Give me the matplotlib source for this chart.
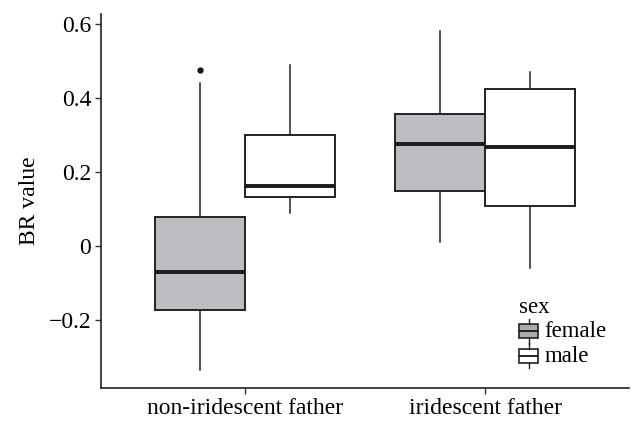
import numpy as np
import matplotlib
matplotlib.use("Agg")
from matplotlib import pyplot as plt
from matplotlib.patches import Rectangle
from matplotlib.lines import Line2D
from matplotlib.legend_handler import HandlerBase

plt.rcParams['font.family'] = ['Liberation Serif', 'DejaVu Serif']

# data
groups = ['non-iridescent father', 'iridescent father']
sexes = ['female', 'male']
colors = ['#bcbdc0', '#ffffff']
# stats per sex, one entry per group: whislo, q1, med, q3, whishi
whislo = {'female': [-0.335, 0.010], 'male': [0.088, -0.059]}
q1 = {'female': [-0.174, 0.149], 'male': [0.133, 0.108]}
med = {'female': [-0.070, 0.276], 'male': [0.163, 0.266]}
q3 = {'female': [0.079, 0.357], 'male': [0.301, 0.423]}
whishi = {'female': [0.440, 0.582], 'male': [0.488, 0.471]}
fliers = {'female': [[0.475], []], 'male': [[], []]}

fig, ax = plt.subplots(figsize=(6.34, 4.23), dpi=100)
fig.subplots_adjust(left=0.16, right=0.992, top=0.967, bottom=0.083)

w = 0.375
for k, s in enumerate(sexes):
    stats = []
    for i in range(len(groups)):
        stats.append(dict(whislo=whislo[s][i], q1=q1[s][i], med=med[s][i],
                          q3=q3[s][i], whishi=whishi[s][i], fliers=fliers[s][i]))
    pos = [i + 1 + (k - 0.5) * w for i in range(len(groups))]
    ax.bxp(stats, positions=pos, widths=w, patch_artist=True, showcaps=False,
           boxprops=dict(facecolor=colors[k], edgecolor='#222222', linewidth=1.4),
           medianprops=dict(color='#1a1a1a', linewidth=2.8),
           whiskerprops=dict(color='#222222', linewidth=1.1),
           flierprops=dict(marker='o', markersize=3.5, markerfacecolor='#111111',
                           markeredgecolor='#111111'))

ax.set_xlim(0.4, 2.6)
ax.set_ylim(-0.384, 0.627)
ax.set_xticks([1, 2])
ax.set_xticklabels(groups)
ax.set_yticks([-0.2, 0, 0.2, 0.4, 0.6])
ax.set_yticklabels(['\u22120.2', '0', '0.2', '0.4', '0.6'])
ax.set_ylabel('BR value', fontsize=17, labelpad=6)
ax.tick_params(labelsize=17, length=4, width=1, color='#333333')
for sp in ['top', 'right']:
    ax.spines[sp].set_visible(False)
for sp in ['left', 'bottom']:
    ax.spines[sp].set_linewidth(1.2)
    ax.spines[sp].set_color('#222222')


class BoxHandler(HandlerBase):
    def create_artists(self, legend, orig, xd, yd, width, height, fontsize, trans):
        fc = orig.get_facecolor()
        bx = Rectangle((xd, yd), width, height,
                       facecolor=fc, edgecolor='#222222', lw=1.2, transform=trans)
        cx = xd + width / 2
        m = Line2D([xd, xd + width], [yd + height / 2] * 2,
                   color='#222222', lw=1.4, transform=trans)
        t = Line2D([cx, cx], [yd + height, yd + height * 1.4], color='#222222',
                   lw=1, transform=trans)
        b = Line2D([cx, cx], [yd - height * 0.4, yd], color='#222222',
                   lw=1, transform=trans)
        return [bx, m, t, b]


handles = [Rectangle((0, 0), 1, 1, facecolor=c) for c in ['#a9aaad', '#ffffff']]
leg = ax.legend(handles, sexes, title='sex', loc='lower left',
                bbox_to_anchor=(0.762, 0.014), frameon=False, fontsize=16.5,
                title_fontsize=16.5, handler_map={Rectangle: BoxHandler()},
                handlelength=0.8, handleheight=0.57, handletextpad=0.28,
                labelspacing=0.14, borderpad=0.2)
leg._legend_box.align = 'left'

fig.savefig('out.png', dpi=100)
